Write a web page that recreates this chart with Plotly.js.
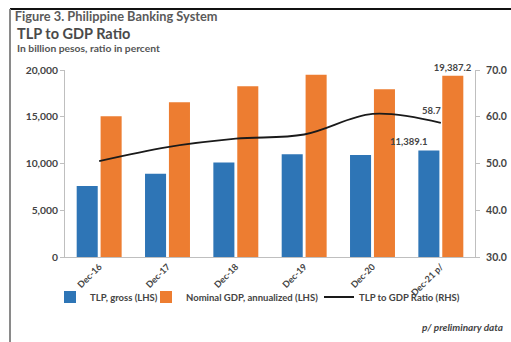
<!DOCTYPE html>
<html>
<head>
<meta charset="utf-8">
<script src="https://cdn.plot.ly/plotly-3.0.1.min.js"></script>
<style>html,body{margin:0;padding:0;background:#fff;}#chart{width:511px;height:342px;}</style>
</head>
<body>
<div id="chart"></div>
<script>
var categories = ["Dec-16", "Dec-17", "Dec-18", "Dec-19", "Dec-20", "Dec-21 p/"];
var tlpGross = [7600, 8900, 10100, 11000, 10900, 11389.1];
var nominalGdp = [15050, 16550, 18250, 19500, 17950, 19387.2];
var tlpGdpRatio = [50.5, 53.5, 55.3, 56.2, 60.6, 58.7];
var gdpLabels = ["", "", "", "", "", "19,387.2"];
var lastIdx = 5;

var FONT = "Lato, 'Open Sans', sans-serif";
var labelFont = {family: FONT, size: 9.5, color: "#444", weight: "bold"};

var traces = [
  {type: "bar", name: "TLP, gross (LHS)", x: categories, y: tlpGross, legend: "legend",
   marker: {color: "#2E75B6"}, cliponaxis: false},
  {type: "bar", name: "Nominal GDP, annualized (LHS)", x: categories, y: nominalGdp, legend: "legend2",
   marker: {color: "#ED7D31"}, text: gdpLabels, textposition: "outside", constraintext: "none",
   textfont: labelFont, cliponaxis: false},
  {type: "scatter", mode: "lines", name: "TLP to GDP Ratio (RHS)", x: categories, y: tlpGdpRatio,
   yaxis: "y2", legend: "legend3", line: {color: "#1a1a1a", width: 1.8, shape: "spline", smoothing: 1},
   cliponaxis: false}
];

var tickFont = {family: FONT, size: 10.3, color: "#444", weight: "bold"};
var legFont = {family: FONT, size: 9.5, color: "#444", weight: "bold"};
function px2x(p) { return (p - 65) / 410; }
function px2y(p) { return (257 - p) / 187; }
function leg(leftPx) {
  return {orientation: "h", x: px2x(leftPx), xanchor: "left", y: px2y(297), yanchor: "middle",
          font: legFont, itemwidth: 30, bgcolor: "rgba(0,0,0,0)", borderwidth: 0};
}

var layout = {
  width: 511, height: 342,
  margin: {l: 65, r: 36, t: 70, b: 85},
  paper_bgcolor: "#fff", plot_bgcolor: "#fff",
  barmode: "group", bargap: 0.3, bargroupgap: 0.12,
  showlegend: true,
  font: {family: FONT},
  title: {text: "Figure 3. Philippine Banking System", x: 0.029, xanchor: "left", xref: "container",
          y: 1 - 17/342, yanchor: "middle", yref: "container",
          font: {family: FONT, size: 12.8, color: "#5a5a5a", weight: "bold"}},
  xaxis: {tickangle: -45, tickfont: {family: FONT, size: 9, color: "#444", weight: "bold"},
          showline: true, linecolor: "#bfbfbf", linewidth: 1, ticks: "", showgrid: false, fixedrange: true},
  yaxis: {range: [0, 20000], dtick: 5000, tickformat: ",d", tickfont: tickFont,
          showline: true, linecolor: "#bfbfbf", linewidth: 1, ticks: "outside", ticklen: 4,
          tickcolor: "#bfbfbf", showgrid: false, zeroline: false, fixedrange: true},
  yaxis2: {range: [30, 70], dtick: 10, tickformat: ".1f", overlaying: "y", side: "right",
           tickfont: {family: FONT, size: 10.5, color: "#444", weight: "bold"},
           showline: true, linecolor: "#bfbfbf", linewidth: 1,
           ticks: "outside", ticklen: 4, tickcolor: "#bfbfbf", ticklabelstandoff: 4,
           showgrid: false, zeroline: false, fixedrange: true},
  legend: leg(50),
  legend2: leg(146),
  legend3: leg(319),
  annotations: [
    {text: "TLP to GDP Ratio", xref: "paper", yref: "paper", x: px2x(15), y: px2y(33),
     xanchor: "left", yanchor: "middle", showarrow: false,
     font: {family: FONT, size: 14.5, color: "#4a4a4a", weight: "bold"}},
    {text: "In billion pesos, ratio in percent", xref: "paper", yref: "paper", x: px2x(15), y: px2y(48),
     xanchor: "left", yanchor: "middle", showarrow: false,
     font: {family: FONT, size: 10.3, color: "#555", weight: "bold"}},
    {text: "<i>p/ preliminary data</i>", xref: "paper", yref: "paper", x: px2x(505), y: px2y(327),
     xanchor: "right", yanchor: "middle", showarrow: false,
     font: {family: FONT, size: 10, color: "#444", weight: "bold"}},
    {text: tlpGdpRatio[lastIdx].toFixed(1), xref: "x", yref: "y2",
     x: categories[lastIdx], y: tlpGdpRatio[lastIdx],
     xanchor: "right", yanchor: "bottom", xshift: 2, yshift: 5, showarrow: false,
     font: labelFont},
    {text: tlpGross[lastIdx].toLocaleString("en-US", {minimumFractionDigits: 1, maximumFractionDigits: 1}),
     xref: "x", yref: "y", x: categories[lastIdx], y: tlpGross[lastIdx],
     xanchor: "right", yanchor: "bottom", xshift: -11, yshift: 2, showarrow: false,
     font: labelFont}
  ],
  shapes: [
    {type: "line", xref: "paper", yref: "paper", x0: px2x(10), x1: px2x(515), y0: px2y(9), y1: px2y(9),
     line: {color: "#111", width: 2}},
    {type: "line", xref: "paper", yref: "paper", x0: px2x(10), x1: px2x(10), y0: px2y(9), y1: px2y(345),
     line: {color: "#8a8a8a", width: 2}}
  ]
};

Plotly.newPlot("chart", traces, layout, {staticPlot: true, displayModeBar: false});
</script>
</body>
</html>
